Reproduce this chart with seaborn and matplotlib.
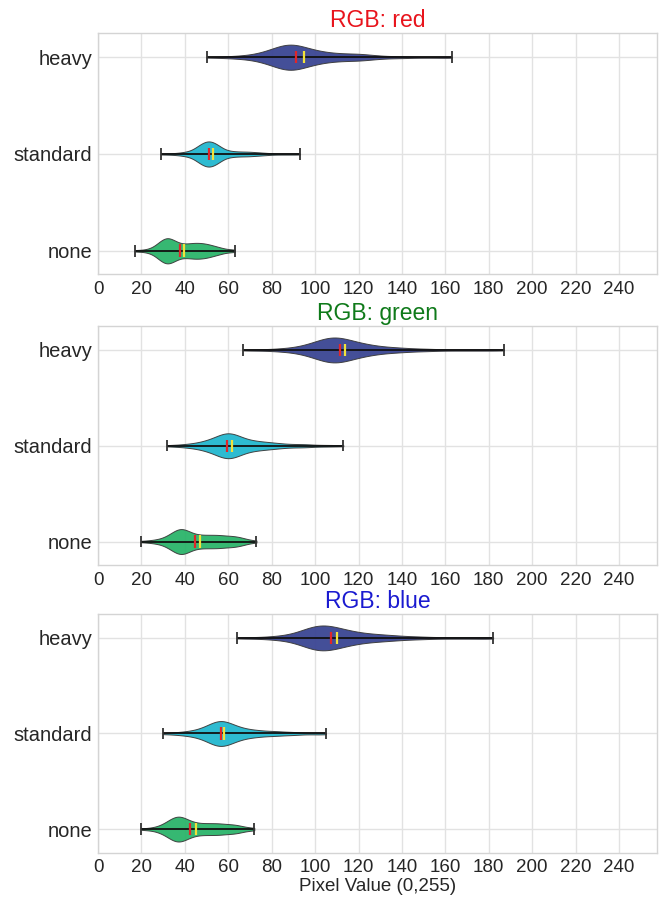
import numpy as np
import pandas as pd
import matplotlib
matplotlib.use("Agg")
import matplotlib.pyplot as plt
import seaborn as sns

categories = ["heavy", "standard", "none"]
channels = ["red", "green", "blue"]
title_colors = ["#e8141c", "#0f7a1a", "#1a1ad0"]
palette = {"heavy": "#3a4593", "standard": "#22b8cf", "none": "#2bb46a"}
xticks = list(range(0, 241, 20))

# Histogram-style samples: value grid and counts per group
red_heavy_v = [50, 55, 60, 65, 70, 75, 80, 85, 90, 95, 100, 105, 110, 115, 120, 125, 130, 135, 140, 145, 150, 155, 160, 163]
red_heavy_c = [1, 1, 2, 3, 5, 9, 16, 24, 26, 20, 14, 10, 8, 7, 7, 5, 3, 2, 2, 1, 1, 1, 1, 1]
red_std_v = [29, 33, 37, 41, 45, 48, 51, 54, 57, 61, 65, 69, 73, 77, 81, 85, 89, 93]
red_std_c = [1, 1, 2, 4, 8, 14, 18, 14, 8, 5, 4, 4, 3, 2, 1, 1, 1, 1]
red_none_v = [17, 20, 23, 26, 29, 32, 35, 38, 41, 44, 47, 50, 53, 56, 59, 62, 63]
red_none_c = [1, 1, 2, 5, 12, 16, 12, 8, 8, 9, 9, 8, 6, 4, 2, 1, 1]

green_heavy_v = [67, 72, 77, 82, 87, 92, 97, 102, 107, 112, 117, 122, 127, 132, 137, 142, 147, 152, 157, 162, 167, 172, 177, 182, 187]
green_heavy_c = [1, 1, 1, 2, 3, 5, 9, 15, 20, 19, 14, 10, 7, 5, 4, 3, 2, 2, 1, 1, 1, 1, 1, 1, 1]
green_std_v = [32, 36, 40, 44, 48, 52, 56, 60, 64, 68, 72, 76, 80, 84, 88, 92, 96, 100, 104, 108, 113]
green_std_c = [1, 1, 2, 3, 5, 8, 13, 17, 13, 8, 6, 5, 4, 3, 2, 2, 2, 1, 1, 1, 1]
green_none_v = [20, 23, 26, 29, 32, 35, 38, 41, 44, 47, 50, 53, 56, 59, 62, 65, 68, 71, 73]
green_none_c = [1, 1, 2, 3, 6, 11, 15, 12, 8, 7, 7, 7, 7, 6, 6, 5, 3, 1, 1]

blue_heavy_v = [64, 69, 74, 79, 84, 89, 94, 99, 104, 109, 114, 119, 124, 129, 134, 139, 144, 149, 154, 159, 164, 169, 174, 179, 182]
blue_heavy_c = [1, 1, 1, 2, 3, 5, 10, 16, 18, 15, 11, 8, 6, 5, 4, 3, 2, 2, 1, 1, 1, 1, 1, 1, 1]
blue_std_v = [30, 34, 38, 42, 46, 50, 54, 58, 62, 66, 70, 74, 78, 82, 86, 90, 94, 98, 102, 105]
blue_std_c = [1, 1, 2, 3, 5, 9, 15, 16, 11, 7, 5, 4, 3, 3, 2, 2, 1, 1, 1, 1]
blue_none_v = [20, 23, 26, 29, 32, 35, 38, 41, 44, 47, 50, 53, 56, 59, 62, 65, 68, 71, 72]
blue_none_c = [1, 1, 2, 4, 8, 13, 14, 10, 7, 6, 6, 6, 6, 5, 5, 4, 2, 1, 1]

# Median / mean (heavy, standard, none)
red_medians = [91.4, 51.2, 38.0]
red_means = [95.0, 53.0, 39.6]
green_medians = [111.7, 59.6, 44.6]
green_means = [114.0, 61.8, 46.9]
blue_medians = [107.3, 56.6, 42.6]
blue_means = [110.0, 58.0, 45.0]

hist = {
    "red": [(red_heavy_v, red_heavy_c), (red_std_v, red_std_c), (red_none_v, red_none_c)],
    "green": [(green_heavy_v, green_heavy_c), (green_std_v, green_std_c), (green_none_v, green_none_c)],
    "blue": [(blue_heavy_v, blue_heavy_c), (blue_std_v, blue_std_c), (blue_none_v, blue_none_c)],
}
stats = {
    "red": (red_medians, red_means),
    "green": (green_medians, green_means),
    "blue": (blue_medians, blue_means),
}

sns.set_theme(style="whitegrid")
plt.rcParams["font.family"] = ["Liberation Sans", "DejaVu Sans"]
plt.rcParams["axes.edgecolor"] = "#d4d4d4"
plt.rcParams["grid.color"] = "#e2e2e2"
plt.rcParams["axes.linewidth"] = 1.0

fig = plt.figure(figsize=(6.59, 8.97), dpi=100)
left, width = 98 / 659, 559 / 659
tops = [33, 326, 614]
bottoms = [274.5, 565, 852.5]

for k, ch in enumerate(channels):
    rows = []
    for cat, (v, c) in zip(categories, hist[ch]):
        for val in np.repeat(v, c):
            rows.append({"category": cat, "value": float(val)})
    df = pd.DataFrame(rows)
    ax = fig.add_axes([left, 1 - bottoms[k] / 897, width, (bottoms[k] - tops[k]) / 897])
    sns.violinplot(data=df, x="value", y="category", hue="category", order=categories,
                   hue_order=categories, palette=palette, orient="h", cut=0, inner=None,
                   density_norm="width", width=0.26, bw_adjust=0.55, linewidth=0.7,
                   linecolor="#3a3a3a", saturation=1, legend=False, ax=ax)
    for coll in ax.collections:
        coll.set_alpha(0.95)
        coll.set_zorder(2)
    meds, means = stats[ch]
    for i, cat in enumerate(categories):
        vals = df.loc[df["category"] == cat, "value"]
        lo, hi = vals.min(), vals.max()
        ax.hlines(i, lo, hi, color="#111111", lw=1.3, zorder=3)
        ax.vlines([lo, hi], i - 0.06, i + 0.06, color="#333333", lw=1.3, zorder=3)
        ax.vlines(meds[i], i - 0.065, i + 0.065, color="#e0262a", lw=1.6, zorder=4)
        ax.vlines(means[i], i - 0.065, i + 0.065, color="#f2e23a", lw=1.6, zorder=4)
    ax.set_xlim(0, 257.5)
    ax.set_ylim(2.245, -0.25)
    ax.set_xticks(xticks)
    ax.set_xticklabels([str(t) for t in xticks], fontsize=13.5)
    ax.tick_params(axis="y", labelsize=14.5, pad=4, length=0)
    ax.tick_params(axis="x", pad=5, length=0)
    ax.set_ylabel("")
    ax.set_xlabel("Pixel Value (0,255)" if k == 2 else "", fontsize=13.5, labelpad=1)
    ax.set_title(f"RGB: {ch}", color=title_colors[k], fontsize=16.5, pad=4)
    ax.grid(True, axis="both")
    ax.set_axisbelow(True)

fig.savefig("out.png", dpi=100)
